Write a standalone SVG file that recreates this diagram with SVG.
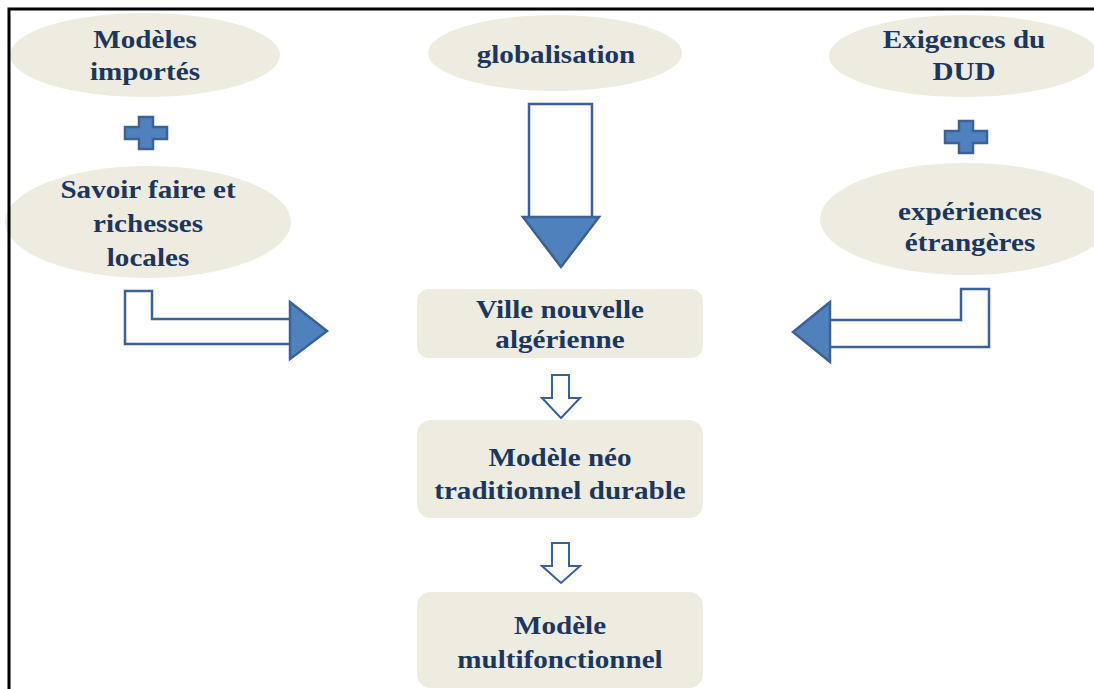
<svg xmlns="http://www.w3.org/2000/svg" width="1094" height="689" viewBox="0 0 1094 689">
  <style>
    .bg { fill: #ffffff; }
    .frame { fill: none; stroke: #000000; stroke-width: 3; }
    .shape { fill: #EEECE1; stroke: none; }
    .lbl { font-weight: bold; font-size: 26px; fill: #1B365F; text-anchor: middle; }
    .body { fill: #ffffff; stroke: #3B6196; stroke-width: 2.5; stroke-linejoin: miter; }
    .head { fill: #4F81BD; stroke: #3B6196; stroke-width: 2.5; stroke-linejoin: miter; }
    .small { fill: #ffffff; stroke: #3B6196; stroke-width: 2; stroke-linejoin: miter; }
  </style>
  <defs>
    <!-- plus sign centred on the origin -->
    <path id="plus" class="head" d="M-7,-16 H7 V-6 H21 V6 H7 V16 H-7 V6 H-21 V-6 H-7 Z"/>
  </defs>

  <rect class="bg" x="0" y="0" width="1094" height="689"/>

  <g font-family="'Liberation Serif', 'Times New Roman', 'DejaVu Serif', serif">
    <!-- left-hand inputs -->
    <g id="modeles-importes">
      <ellipse class="shape" cx="145" cy="55" rx="135" ry="42"/>
      <g transform="translate(145,0) scale(1.12,1)">
        <text class="lbl" x="0" y="48">Modèles</text>
        <text class="lbl" x="0" y="80">importés</text>
      </g>
    </g>
    <g id="plus-left">
      <use href="#plus" x="146" y="133"/>
    </g>
    <g id="savoir-faire">
      <ellipse class="shape" cx="148" cy="222" rx="143" ry="56"/>
      <g transform="translate(148,0) scale(1.12,1)">
        <text class="lbl" x="0" y="198">Savoir faire et</text>
        <text class="lbl" x="0" y="232">richesses</text>
        <text class="lbl" x="0" y="266">locales</text>
      </g>
    </g>

    <!-- central input -->
    <g id="globalisation">
      <ellipse class="shape" cx="555" cy="53" rx="127" ry="38"/>
      <g transform="translate(556,0) scale(1.12,1)">
        <text class="lbl" x="0" y="63">globalisation</text>
      </g>
    </g>

    <!-- right-hand inputs -->
    <g id="exigences-dud">
      <ellipse class="shape" cx="964" cy="56" rx="135" ry="41"/>
      <g transform="translate(964,0) scale(1.12,1)">
        <text class="lbl" x="0" y="48">Exigences du</text>
        <text class="lbl" x="0" y="80">DUD</text>
      </g>
    </g>
    <g id="plus-right">
      <use href="#plus" x="966" y="137"/>
    </g>
    <g id="experiences-etrangeres">
      <ellipse class="shape" cx="966" cy="219" rx="146" ry="56"/>
      <g transform="translate(970,0) scale(1.12,1)">
        <text class="lbl" x="0" y="220">expériences</text>
        <text class="lbl" x="0" y="251">étrangères</text>
      </g>
    </g>

    <!-- central chain -->
    <g id="ville-nouvelle">
      <rect class="shape" x="417" y="289" width="286" height="69" rx="12"/>
      <g transform="translate(560,0) scale(1.12,1)">
        <text class="lbl" x="0" y="318">Ville nouvelle</text>
        <text class="lbl" x="0" y="348">algérienne</text>
      </g>
    </g>
    <g id="modele-neo">
      <rect class="shape" x="417" y="420" width="286" height="98" rx="14"/>
      <g transform="translate(560,0) scale(1.12,1)">
        <text class="lbl" x="0" y="466">Modèle néo</text>
        <text class="lbl" x="0" y="499">traditionnel durable</text>
      </g>
    </g>
    <g id="modele-multi">
      <rect class="shape" x="417" y="592" width="286" height="96" rx="14"/>
      <g transform="translate(560,0) scale(1.12,1)">
        <text class="lbl" x="0" y="634">Modèle</text>
        <text class="lbl" x="0" y="668">multifonctionnel</text>
      </g>
    </g>
  </g>

  <!-- connectors -->
  <g id="connectors">
    <!-- globalisation down to the new town -->
    <path class="body" d="M529,217 V104 H592 V217"/>
    <path class="head" d="M523,217 H599 L561,267 Z"/>
    <!-- left bent arrow -->
    <path class="body" d="M290,319 H152 V291 H125 V344 H290"/>
    <path class="head" d="M290,302 L327,331 L290,359 Z"/>
    <!-- right bent arrow -->
    <path class="body" d="M830,320 H961 V289 H989 V347 H830"/>
    <path class="head" d="M830,302 L793,332 L830,362 Z"/>
    <!-- small down arrows between the boxes -->
    <path class="small" d="M552,375 H569 V398 H580 L561,418 L542,398 H552 Z"/>
    <path class="small" d="M552,543 H569 V566 H580 L561,583 L542,566 H552 Z"/>
  </g>

  <!-- frame lines on the top and left edges -->
  <path class="frame" d="M9,689 V9 H1094"/>
</svg>
